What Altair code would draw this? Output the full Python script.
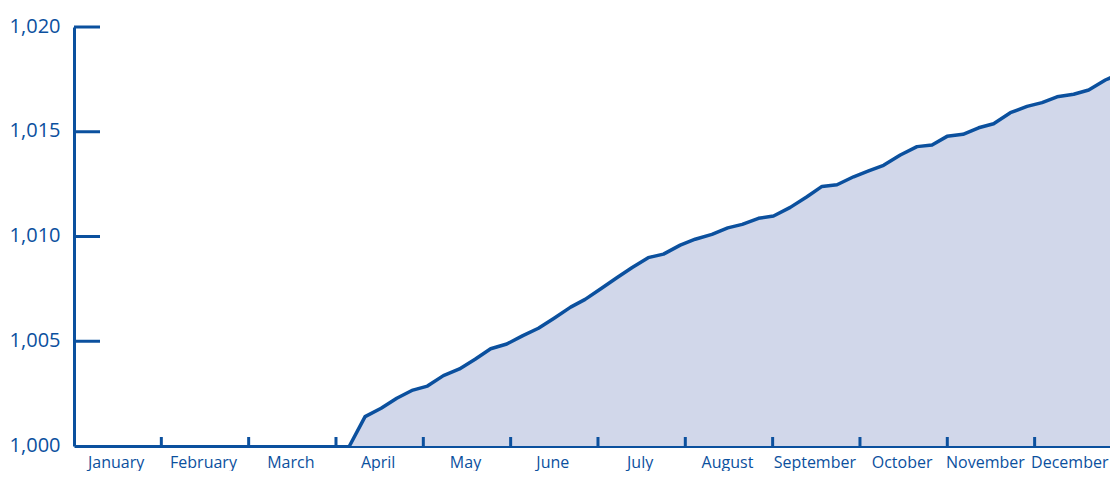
import altair as alt
import pandas as pd

# Month positions (fractional months from 1 January) and index values
months = ["January", "February", "March", "April", "May", "June", "July",
          "August", "September", "October", "November", "December"]

x_pos = [3.154, 3.333, 3.517, 3.696, 3.880, 4.047, 4.230, 4.414, 4.593, 4.771,
         4.956, 5.140, 5.318, 5.493, 5.687, 5.853, 6.037, 6.220, 6.392, 6.575,
         6.750, 6.942, 7.113, 7.305, 7.486, 7.652, 7.838, 8.010, 8.202, 8.393,
         8.565, 8.737, 8.927, 9.099, 9.270, 9.462, 9.653, 9.825, 9.997, 10.180,
         10.359, 10.530, 10.722, 10.913, 11.085, 11.257, 11.447, 11.619, 11.810,
         11.959]
values = [1000.00, 1001.40, 1001.80, 1002.28, 1002.67, 1002.86, 1003.36, 1003.68,
          1004.14, 1004.64, 1004.87, 1005.27, 1005.62, 1006.09, 1006.63, 1007.00,
          1007.52, 1008.04, 1008.52, 1008.99, 1009.16, 1009.59, 1009.87, 1010.10,
          1010.41, 1010.58, 1010.87, 1010.98, 1011.39, 1011.90, 1012.39, 1012.47,
          1012.85, 1013.13, 1013.40, 1013.89, 1014.29, 1014.37, 1014.78, 1014.88,
          1015.19, 1015.38, 1015.91, 1016.21, 1016.39, 1016.67, 1016.79, 1016.99,
          1017.47, 1017.74]

y_ticks = [1000, 1005, 1010, 1015, 1020]
month_bounds = [1, 2, 3, 4, 5, 6, 7, 8, 9, 10, 11]
label_pos = [i + 0.5 for i in range(12)]

BLUE = "#0b509e"
FILL = "#d1d7ea"
FONT = "Open Sans"
MONTH_PX = 87.33
W, H = 1036, 419

df = pd.DataFrame({"m": x_pos, "v": values, "base": 1000})
df_bounds = pd.DataFrame({"m": month_bounds})
df_yt = pd.DataFrame({"v": [t for t in y_ticks if t > 1000]})

xscale = alt.Scale(domain=[0, W / MONTH_PX], nice=False, zero=False)
yscale = alt.Scale(domain=[1000, 1020], nice=False, zero=False)

month_arr = "[" + ",".join("'%s'" % m for m in months) + "]"

xaxis = alt.Axis(values=label_pos, title=None, grid=False, ticks=False,
                 tickSize=0, labelPadding=21, labelBaseline="alphabetic",
                 labelFlush=False, labelOverlap=False, labelBound=False,
                 labelOffset={"condition": [
                     {"test": "datum.value > 11", "value": -9},
                     {"test": "datum.value > 10", "value": -6}],
                     "value": -2},
                 labelExpr=month_arr + "[floor(datum.value)]",
                 labelFont=FONT, labelFontSize=16, labelColor=BLUE,
                 domainColor=BLUE, domainWidth=3)
yaxis = alt.Axis(values=y_ticks, format=",d", title=None, grid=False,
                 ticks=False, tickSize=0, labelPadding=14,
                 labelFont=FONT, labelFontSize=20, labelColor=BLUE,
                 labelBaseline="middle", labelOffset=-1,
                 domainColor=BLUE, domainWidth=3)

area = alt.Chart(df).mark_area(color=FILL, opacity=1, clip=True).encode(
    x=alt.X("m:Q", scale=xscale, axis=xaxis),
    y=alt.Y("v:Q", scale=yscale, axis=yaxis),
    y2=alt.Y2("base:Q"),
)

line = alt.Chart(df).mark_line(color=BLUE, strokeWidth=3.5, strokeJoin="round",
                               clip=True).encode(
    x=alt.X("m:Q", scale=xscale, axis=xaxis),
    y=alt.Y("v:Q", scale=yscale, axis=yaxis),
)

xticks = alt.Chart(df_bounds).mark_rule(color=BLUE, strokeWidth=3).encode(
    x=alt.X("m:Q", scale=xscale, axis=xaxis),
    y=alt.value(H),
    y2=alt.value(H - 9),
)

yticks = alt.Chart(df_yt).mark_rule(color=BLUE, strokeWidth=3).encode(
    y=alt.Y("v:Q", scale=yscale, axis=yaxis),
    x=alt.value(0),
    x2=alt.value(26),
)

chart = alt.layer(area, line, xticks, yticks).properties(
    width=W, height=H,
    autosize=alt.AutoSizeParams(type="none"),
    padding={"left": 66, "top": 19, "right": 0, "bottom": 25},
).configure_view(stroke=None)

chart.save("out.html", embed_options={"renderer": "svg", "actions": False})
